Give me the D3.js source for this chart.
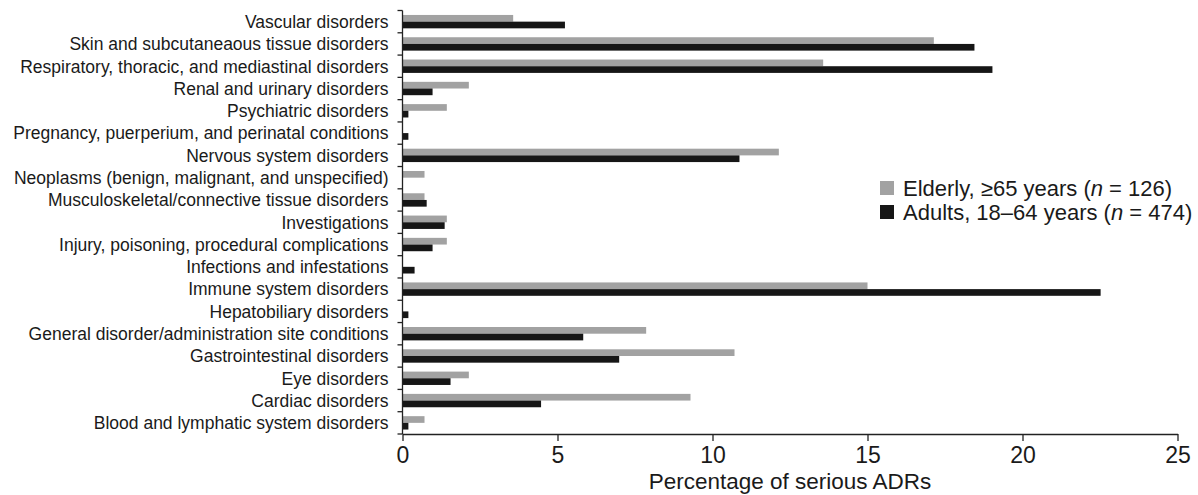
<!DOCTYPE html>
<html>
<head>
<meta charset="utf-8">
<script src="https://cdn.jsdelivr.net/npm/d3@7"></script>
<style>
  body { margin: 0; background: #fff; }
  text { font-family: "Liberation Sans", Arial, Helvetica, sans-serif; fill: #1a1a1a; }
</style>
</head>
<body>
<div id="chart"></div>
<script>
// categories, top to bottom as in the figure
const categories = [
  "Vascular disorders",
  "Skin and subcutaneaous tissue disorders",
  "Respiratory, thoracic, and mediastinal disorders",
  "Renal and urinary disorders",
  "Psychiatric disorders",
  "Pregnancy, puerperium, and perinatal conditions",
  "Nervous system disorders",
  "Neoplasms (benign, malignant, and unspecified)",
  "Musculoskeletal/connective tissue disorders",
  "Investigations",
  "Injury, poisoning, procedural complications",
  "Infections and infestations",
  "Immune system disorders",
  "Hepatobiliary disorders",
  "General disorder/administration site conditions",
  "Gastrointestinal disorders",
  "Eye disorders",
  "Cardiac disorders",
  "Blood and lymphatic system disorders"
];

const elderly = [3.57, 17.14, 13.57, 2.14, 1.43, 0, 12.14, 0.71, 0.71, 1.43, 1.43, 0, 15.0, 0, 7.86, 10.71, 2.14, 9.29, 0.71];
const adults  = [5.24, 18.45, 19.03, 0.97, 0.19, 0.19, 10.87, 0, 0.78, 1.36, 0.97, 0.39, 22.52, 0.19, 5.83, 6.99, 1.55, 4.47, 0.19];

const seriesNames = ["elderly", "adults"];
const xTicks = [0, 5, 10, 15, 20, 25];
const xTitle = "Percentage of serious ADRs";

const width = 1198, height = 495;
const margin = {top: 10.5, right: 20.5, bottom: 61, left: 402.5};
const colors = {elderly: "#a2a2a2", adults: "#161616"};

const svg = d3.select("#chart").append("svg")
  .attr("width", width)
  .attr("height", height);

const x = d3.scaleLinear()
  .domain([0, 25])
  .range([margin.left, width - margin.right]);

const y = d3.scaleBand()
  .domain(categories)
  .range([margin.top, height - margin.bottom])
  .paddingInner(0.4)
  .paddingOuter(0.2);

const ySub = d3.scaleBand()
  .domain(seriesNames)
  .range([0, y.bandwidth()]);

const rows = categories.map((c, i) => ({cat: c, elderly: elderly[i], adults: adults[i]}));

// bars
const g = svg.append("g");
const row = g.selectAll(".row")
  .data(rows)
  .enter().append("g")
  .attr("class", "row")
  .attr("transform", d => "translate(0," + y(d.cat) + ")");

row.selectAll("rect")
  .data(d => seriesNames.map(s => ({s: s, v: d[s]})))
  .enter().append("rect")
  .attr("x", x(0))
  .attr("y", d => ySub(d.s))
  .attr("width", d => x(d.v) - x(0))
  .attr("height", ySub.bandwidth())
  .attr("fill", d => colors[d.s]);

// y axis: ticks between categories
const yAxisG = svg.append("g");
const step = y.step();
const yTop = margin.top, yBottom = height - margin.bottom;
yAxisG.append("line")
  .attr("x1", x(0)).attr("x2", x(0))
  .attr("y1", yTop).attr("y2", yBottom)
  .attr("stroke", "#222").attr("stroke-width", 1.3);
yAxisG.selectAll(".ytick")
  .data(d3.range(categories.length + 1))
  .enter().append("line")
  .attr("x1", x(0) - 5).attr("x2", x(0))
  .attr("y1", i => yTop + i * step)
  .attr("y2", i => yTop + i * step)
  .attr("stroke", "#222").attr("stroke-width", 1.3);

yAxisG.selectAll(".ylab")
  .data(categories)
  .enter().append("text")
  .attr("x", x(0) - 14)
  .attr("y", d => y(d) + y.bandwidth() / 2)
  .attr("dy", "0.36em")
  .attr("text-anchor", "end")
  .style("font-size", "17.5px")
  .text(d => d);

// x axis
const xAxis = d3.axisBottom(x)
  .tickValues(xTicks)
  .tickSize(7)
  .tickSizeOuter(0)
  .tickFormat(d3.format("d"));

const xAxisG = svg.append("g")
  .attr("transform", "translate(0," + yBottom + ")")
  .call(xAxis);
xAxisG.select(".domain").attr("stroke", "#222").attr("stroke-width", 1.3);
xAxisG.selectAll(".tick line").attr("stroke", "#222").attr("stroke-width", 1.3);
xAxisG.selectAll(".tick text")
  .attr("y", 13)
  .attr("dy", "0.71em")
  .style("font-size", "23px")
  .attr("fill", "#1a1a1a");

svg.append("text")
  .attr("x", (x(0) + x(25)) / 2)
  .attr("y", 489)
  .attr("text-anchor", "middle")
  .style("font-size", "22.5px")
  .text(xTitle);

// legend
const legend = svg.append("g").attr("transform", "translate(880,188)");
const legendItems = [
  {s: "elderly", label: ["Elderly, \u226565 years (", "n", " = 126)"]},
  {s: "adults", label: ["Adults, 18\u201364 years (", "n", " = 474)"]}
];
const li = legend.selectAll(".li")
  .data(legendItems)
  .enter().append("g")
  .attr("transform", (d, i) => "translate(0," + i * 24 + ")");
li.append("rect")
  .attr("x", 0).attr("y", -7)
  .attr("width", 14).attr("height", 14)
  .attr("fill", d => colors[d.s]);
const lt = li.append("text")
  .attr("x", 23)
  .attr("dy", "0.36em")
  .style("font-size", "22px");
lt.selectAll("tspan")
  .data(d => d.label)
  .enter().append("tspan")
  .style("font-style", (d, i) => i === 1 ? "italic" : "normal")
  .text(d => d);
</script>
</body>
</html>
